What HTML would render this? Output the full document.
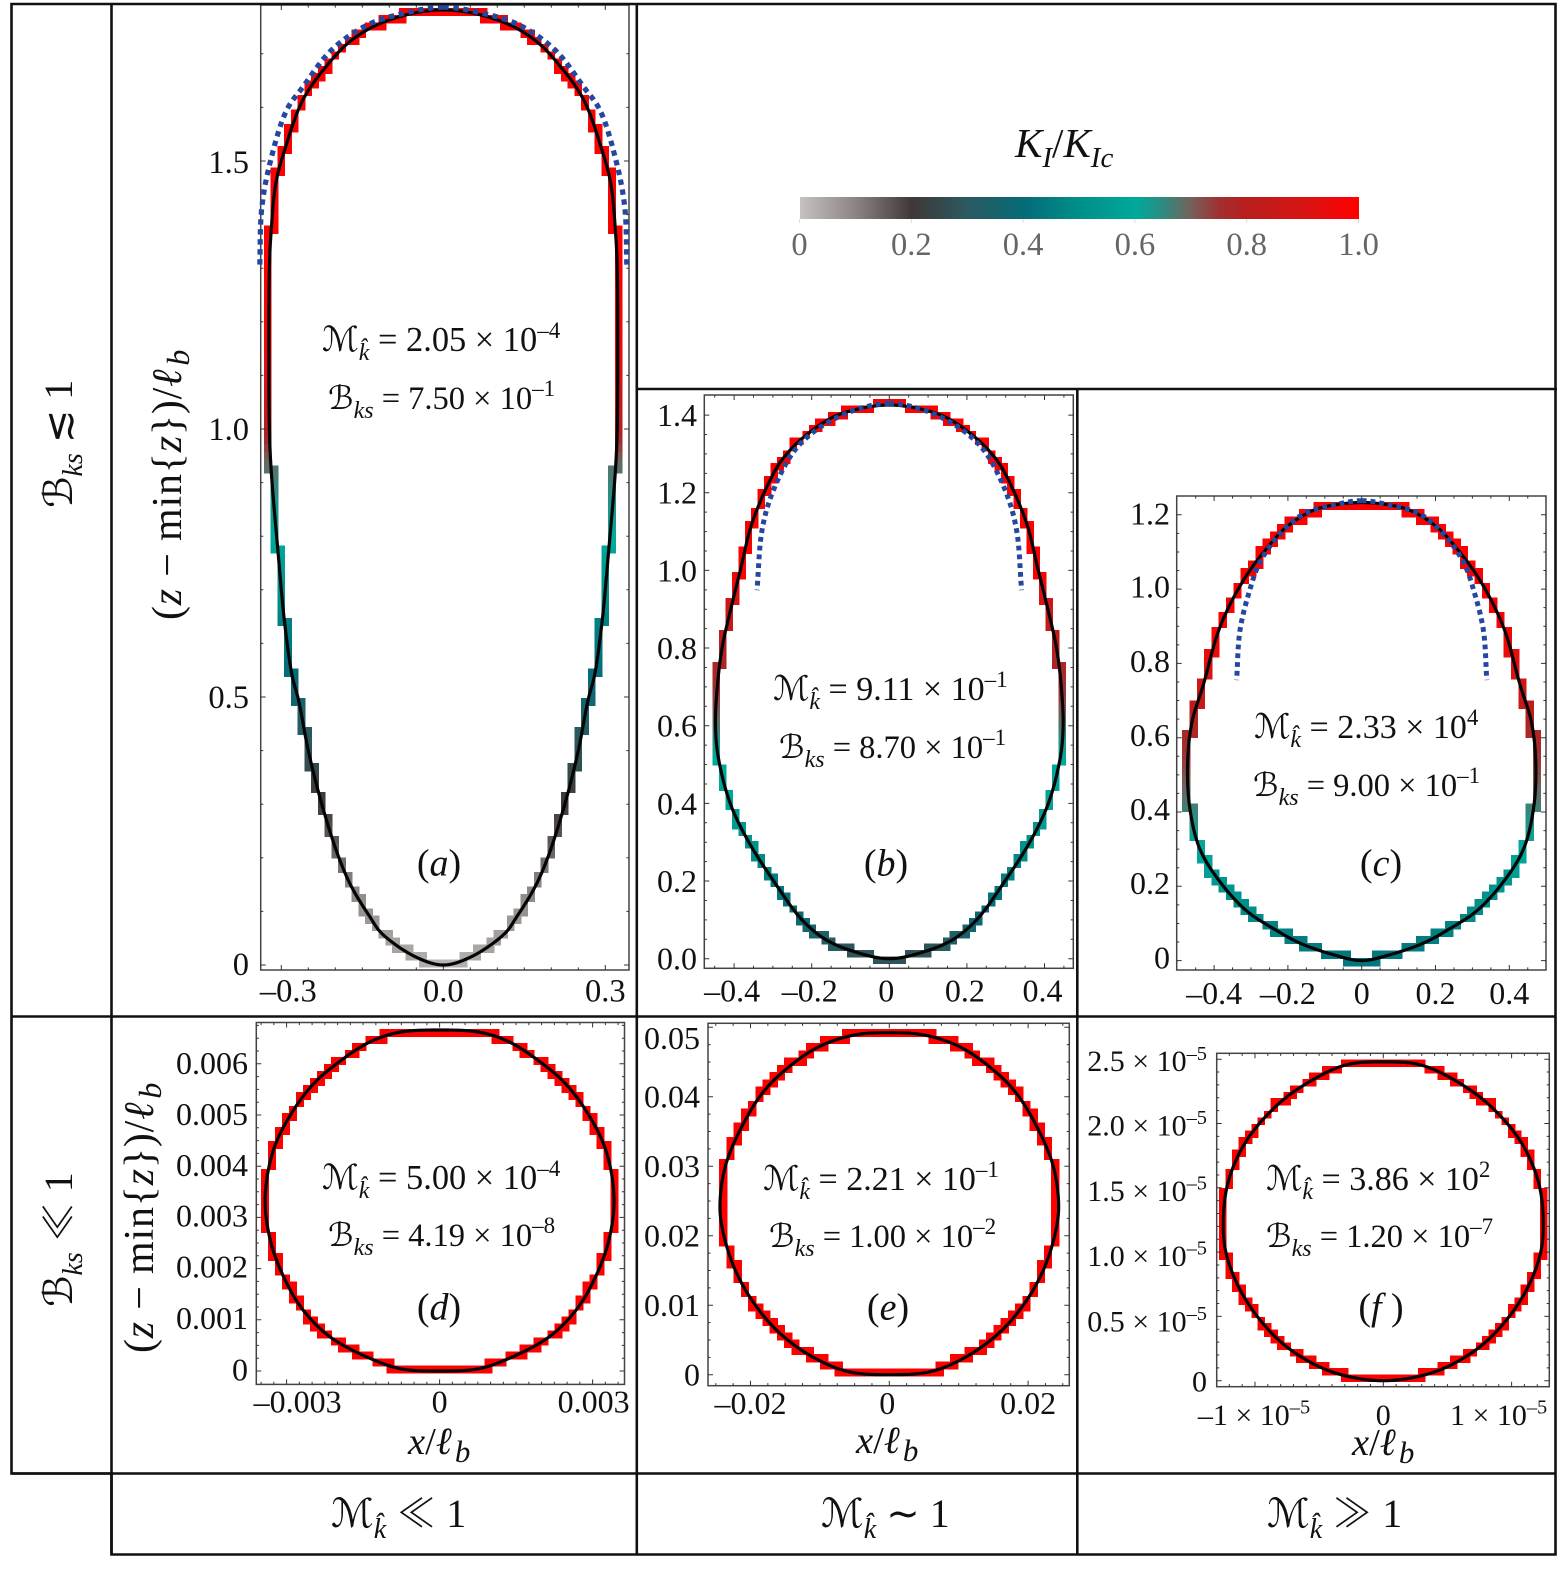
<!DOCTYPE html>
<html lang="en">
<head>
<meta charset="utf-8">
<title>Fracture contours by K_I/K_Ic</title>
<style>
html,body{margin:0;padding:0;background:#fff}
svg{display:block}
text{font-family:"Liberation Serif","DejaVu Serif","DejaVu Sans",serif;fill:#111}
.it{font-style:italic}
.rel{font-family:"Noto Serif CJK SC","Liberation Serif","DejaVu Sans",serif}
.yt{letter-spacing:0.8px}
</style>
</head>
<body>
<svg id="figure" xmlns="http://www.w3.org/2000/svg" width="1564" height="1585" viewBox="0 0 1564 1585">
<defs><linearGradient id="cbGrad" x1="0" x2="1" y1="0" y2="0"></linearGradient></defs>
<rect x="0" y="0" width="1564" height="1585" fill="#fff"/>
<g id="marks"></g>

<g stroke="#111" stroke-width="2.6" fill="none">
<path d="M11.5 4H1555.5V1554.5H111.5V1473.5H11.5Z"/>
<path d="M111.5 4V1554.5"/>
<path d="M636.8 4V1554.5"/>
<path d="M1077.3 389V1554.5"/>
<path d="M636.8 389H1557"/>
<path d="M11.5 1016.5H1555.5"/>
<path d="M11.5 1473.5H1555.5"/>
</g>

<g>
<text transform="translate(72 508) rotate(-90)" font-size="40"><tspan class="it">ℬ</tspan><tspan class="it" dy="10" font-size="28">ks</tspan><tspan dy="-10"> ≲ 1</tspan></text>
<text transform="translate(72 1307) rotate(-90)" font-size="40"><tspan class="it">ℬ</tspan><tspan class="it" dy="10" font-size="28">ks</tspan><tspan dy="-10"> </tspan><tspan class="rel">≪</tspan><tspan> 1</tspan></text>
</g>
<g>
<text x="331" y="1527" font-size="40"><tspan class="it">ℳ</tspan><tspan class="it" dy="11" font-size="28">k̂</tspan><tspan dy="-11"> </tspan><tspan class="rel">≪</tspan><tspan> 1</tspan></text>
<text x="821" y="1527" font-size="40"><tspan class="it">ℳ</tspan><tspan class="it" dy="11" font-size="28">k̂</tspan><tspan dy="-11"> </tspan><tspan class="rel">∼</tspan><tspan> 1</tspan></text>
<text x="1267" y="1527" font-size="40"><tspan class="it">ℳ</tspan><tspan class="it" dy="11" font-size="28">k̂</tspan><tspan dy="-11"> </tspan><tspan class="rel">≫</tspan><tspan> 1</tspan></text>
</g>

<g>
<text class="yt" transform="translate(181 620) rotate(-90)" font-size="42">(<tspan class="it">z</tspan> − min{<tspan class="it">z</tspan>})/<tspan class="it">ℓ</tspan><tspan class="it" dy="8" dx="3" font-size="32">b</tspan></text>
<text class="yt" transform="translate(153 1353) rotate(-90)" font-size="42">(<tspan class="it">z</tspan> − min{<tspan class="it">z</tspan>})/<tspan class="it">ℓ</tspan><tspan class="it" dy="8" dx="3" font-size="32">b</tspan></text>
<text x="408" y="1454" font-size="38.5"><tspan class="it">x</tspan>/<tspan class="it">ℓ</tspan><tspan class="it" dy="8" dx="3" font-size="31">b</tspan></text>
<text x="856" y="1453" font-size="38.5"><tspan class="it">x</tspan>/<tspan class="it">ℓ</tspan><tspan class="it" dy="8" dx="3" font-size="31">b</tspan></text>
<text x="1352" y="1455" font-size="38.5"><tspan class="it">x</tspan>/<tspan class="it">ℓ</tspan><tspan class="it" dy="8" dx="3" font-size="31">b</tspan></text>
</g>

<g>
<text x="322" y="351" font-size="34.4"><tspan class="it">ℳ</tspan><tspan class="it" dy="9" font-size="24">k̂</tspan><tspan dy="-9"> = 2.05 × 10</tspan><tspan dy="-13" font-size="23">–4</tspan></text>
<text x="328" y="409" font-size="32.5"><tspan class="it">ℬ</tspan><tspan class="it" dy="9" font-size="24">ks</tspan><tspan dy="-9"> = 7.50 × 10</tspan><tspan dy="-13" font-size="23">–1</tspan></text>
<text x="439" y="875.5" font-size="38" text-anchor="middle">(<tspan class="it">a</tspan>)</text>
<text x="773" y="700" font-size="34"><tspan class="it">ℳ</tspan><tspan class="it" dy="9" font-size="24">k̂</tspan><tspan dy="-9"> = 9.11 × 10</tspan><tspan dy="-13" font-size="23">–1</tspan></text>
<text x="779" y="758" font-size="32.5"><tspan class="it">ℬ</tspan><tspan class="it" dy="9" font-size="24">ks</tspan><tspan dy="-9"> = 8.70 × 10</tspan><tspan dy="-13" font-size="23">–1</tspan></text>
<text x="886" y="875.5" font-size="38" text-anchor="middle">(<tspan class="it">b</tspan>)</text>
<text x="1254" y="738" font-size="34"><tspan class="it">ℳ</tspan><tspan class="it" dy="9" font-size="24">k̂</tspan><tspan dy="-9"> = 2.33 × 10</tspan><tspan dy="-13" font-size="23">4</tspan></text>
<text x="1253" y="796" font-size="32.5"><tspan class="it">ℬ</tspan><tspan class="it" dy="9" font-size="24">ks</tspan><tspan dy="-9"> = 9.00 × 10</tspan><tspan dy="-13" font-size="23">–1</tspan></text>
<text x="1381" y="875.5" font-size="38" text-anchor="middle">(<tspan class="it">c</tspan>)</text>
<text x="322" y="1189" font-size="34.4"><tspan class="it">ℳ</tspan><tspan class="it" dy="9" font-size="24">k̂</tspan><tspan dy="-9"> = 5.00 × 10</tspan><tspan dy="-13" font-size="23">–4</tspan></text>
<text x="328" y="1246" font-size="32.5"><tspan class="it">ℬ</tspan><tspan class="it" dy="9" font-size="24">ks</tspan><tspan dy="-9"> = 4.19 × 10</tspan><tspan dy="-13" font-size="23">–8</tspan></text>
<text x="439" y="1319.5" font-size="38" text-anchor="middle">(<tspan class="it">d</tspan>)</text>
<text x="763" y="1190" font-size="34"><tspan class="it">ℳ</tspan><tspan class="it" dy="9" font-size="24">k̂</tspan><tspan dy="-9"> = 2.21 × 10</tspan><tspan dy="-13" font-size="23">–1</tspan></text>
<text x="769" y="1247" font-size="32.5"><tspan class="it">ℬ</tspan><tspan class="it" dy="9" font-size="24">ks</tspan><tspan dy="-9"> = 1.00 × 10</tspan><tspan dy="-13" font-size="23">–2</tspan></text>
<text x="888" y="1319.5" font-size="38" text-anchor="middle">(<tspan class="it">e</tspan>)</text>
<text x="1266" y="1190" font-size="34"><tspan class="it">ℳ</tspan><tspan class="it" dy="9" font-size="24">k̂</tspan><tspan dy="-9"> = 3.86 × 10</tspan><tspan dy="-13" font-size="23">2</tspan></text>
<text x="1266" y="1247" font-size="32.5"><tspan class="it">ℬ</tspan><tspan class="it" dy="9" font-size="24">ks</tspan><tspan dy="-9"> = 1.20 × 10</tspan><tspan dy="-13" font-size="23">–7</tspan></text>
<text x="1381" y="1319.5" font-size="38" text-anchor="middle">(<tspan class="it">f</tspan> )</text>
</g>

<g id="colorbar">
<text x="1015" y="157" font-size="41"><tspan class="it">K</tspan><tspan class="it" dy="10" font-size="29">I</tspan><tspan dy="-10">/</tspan><tspan class="it">K</tspan><tspan class="it" dy="10" font-size="29">Ic</tspan></text>
<rect x="800" y="197" width="559" height="22" fill="url(#cbGrad)"/>
</g>

<script>
// ---- colour scale ----
const colorKeys   = [0, 0.1, 0.2, 0.3, 0.4, 0.5, 0.6, 0.65, 0.7, 0.75, 0.8, 0.9, 1.0];
const colorValues = ['#c6c2c0','#8a8482','#403836','#2a5a60','#056b78','#008f8a','#00a99c','#2f8a80','#75605a','#a03030','#b81e1e','#d81414','#ff0000'];
const colorbarTicks  = [0, 0.2, 0.4, 0.6, 0.8, 1.0];
const colorbarLabels = ['0','0.2','0.4','0.6','0.8','1.0'];

// ---- panel (a) ----
const xTicksA = [-0.3, 0, 0.3];
const xLabelsA = ['–0.3','0.0','0.3'];
const zTicksA = [0, 0.5, 1.0, 1.5];
const zLabelsA = ['0','0.5','1.0','1.5'];
const halfXA = [0,0.052,0.114,0.136,0.17,0.194,0.225,0.25,0.268,0.28,0.294,0.306,0.319,0.322,0.323,0.322,0.319,0.31,0.294,0.26,0.218,0.169,0.101,0];
const heightA = [0,0.0155,0.059,0.09,0.146,0.202,0.30,0.40,0.494,0.54,0.64,0.77,0.927,1.0,1.15,1.302,1.366,1.459,1.52,1.614,1.675,1.726,1.763,1.782];
const ratioA = [0.02,0.04,0.06,0.07,0.1,0.14,0.2,0.28,0.36,0.4,0.46,0.58,0.68,0.8,0.95,1,1,1,1,1,1,1,1,1];
const dotXA = [0,0.071,0.14,0.207,0.26,0.29,0.32,0.336,0.34];
const dotZA = [1.787,1.776,1.754,1.707,1.638,1.595,1.50,1.414,1.30];

// ---- panel (b) ----
const xTicksB = [-0.4,-0.2,0,0.2,0.4];
const xLabelsB = ['–0.4','–0.2','0','0.2','0.4'];
const zTicksB = [0,0.2,0.4,0.6,0.8,1.0,1.2,1.4];
const zLabelsB = ['0.0','0.2','0.4','0.6','0.8','1.0','1.2','1.4'];
const halfXB = [0,0.096,0.165,0.225,0.298,0.362,0.41,0.441,0.448,0.444,0.431,0.405,0.384,0.354,0.307,0.277,0.229,0.152,0.096,0];
const heightB = [0,0.02,0.05,0.1,0.2,0.3,0.4,0.52,0.6,0.692,0.8,0.915,1.0,1.121,1.233,1.284,1.336,1.391,1.412,1.426];
const ratioB = [0.28,0.28,0.33,0.38,0.45,0.52,0.58,0.6,0.68,0.75,0.8,0.88,1,1,1,1,1,1,1,1];
const dotXB = [0,0.062,0.13,0.2,0.25,0.302,0.328,0.341];
const dotZB = [1.43,1.421,1.396,1.353,1.301,1.198,1.104,0.949];

// ---- panel (c) ----
const xTicksC = [-0.4,-0.2,0,0.2,0.4];
const xLabelsC = ['–0.4','–0.2','0','0.2','0.4'];
const zTicksC = [0,0.2,0.4,0.6,0.8,1.0,1.2];
const zLabelsC = ['0','0.2','0.4','0.6','0.8','1.0','1.2'];
const halfXC = [0,0.077,0.167,0.239,0.312,0.384,0.438,0.465,0.472,0.461,0.429,0.384,0.321,0.257,0.203,0.131,0.077,0];
const heightC = [0,0.016,0.047,0.086,0.134,0.212,0.299,0.405,0.521,0.637,0.743,0.898,1.023,1.11,1.168,1.212,1.226,1.233];
const ratioC = [0.43,0.43,0.45,0.47,0.5,0.53,0.6,0.66,0.73,0.79,0.88,1,1,1,1,1,1,1];
const dotXC = [0,0.077,0.158,0.221,0.276,0.307,0.33,0.339];
const dotZC = [1.238,1.226,1.202,1.149,1.072,0.985,0.888,0.755];

// ---- panel (d) ----
const xTicksD = [-0.003,0,0.003];
const xLabelsD = ['–0.003','0','0.003'];
const zTicksD = [0,0.001,0.002,0.003,0.004,0.005,0.006];
const zLabelsD = ['0','0.001','0.002','0.003','0.004','0.005','0.006'];
const halfXD = [0,0.00074,0.0013,0.00214,0.00266,0.00298,0.0033,0.00342,0.00326,0.0029,0.00246,0.00194,0.00138,0.00082,0];
const heightD = [0,0.00004,0.00022,0.00066,0.00117,0.00168,0.00248,0.00336,0.00431,0.00504,0.00562,0.00606,0.00642,0.00661,0.00666];
const ratioD = [1,1,1,1,1,1,1,1,1,1,1,1,1,1,1];

// ---- panel (e) ----
const xTicksE = [-0.02,0,0.02];
const xLabelsE = ['–0.02','0','0.02'];
const zTicksE = [0,0.01,0.02,0.03,0.04,0.05];
const zLabelsE = ['0','0.01','0.02','0.03','0.04','0.05'];
const halfXE = [0,0.00587,0.01067,0.01548,0.0193,0.0222,0.0239,0.0244,0.02365,0.02125,0.0179,0.01356,0.0097,0.0049,0];
const heightE = [0,0.00043,0.00235,0.0057,0.01,0.01506,0.0203,0.0242,0.0299,0.0357,0.041,0.045,0.0474,0.0489,0.0492];
const ratioE = [1,1,1,1,1,1,1,1,1,1,1,1,1,1,1];

// ---- panel (f), values in units of 1e-5 ----
const xTicksF = [-1,0,1];
const xLabelsF = ['–1 × 10^–5','0','1 × 10^–5'];
const zTicksF = [0,0.5,1.0,1.5,2.0,2.5];
const zLabelsF = ['0','0.5 × 10^–5','1.0 × 10^–5','1.5 × 10^–5','2.0 × 10^–5','2.5 × 10^–5'];
const halfXF = [0,0.26,0.50,0.77,0.98,1.128,1.225,1.247,1.212,1.08,0.855,0.62,0.30,0];
const heightF = [0,0.03,0.109,0.277,0.497,0.73,0.99,1.223,1.534,1.845,2.117,2.298,2.453,2.479];
const ratioF = [1,1,1,1,1,1,1,1,1,1,1,1,1,1];

const NS = 'http://www.w3.org/2000/svg';
const root = document.getElementById('marks');

function mk(tag, attrs, parent) {
  const el = document.createElementNS(NS, tag);
  for (const k in attrs) el.setAttribute(k, attrs[k]);
  parent.appendChild(el);
  return el;
}
function hexToRgb(h) {
  return [parseInt(h.slice(1,3),16), parseInt(h.slice(3,5),16), parseInt(h.slice(5,7),16)];
}
function colorFor(k) {
  if (k <= colorKeys[0]) return colorValues[0];
  for (let i = 1; i < colorKeys.length; i++) {
    if (k <= colorKeys[i]) {
      const t = (k - colorKeys[i-1]) / (colorKeys[i] - colorKeys[i-1]);
      const a = hexToRgb(colorValues[i-1]), b = hexToRgb(colorValues[i]);
      return 'rgb(' + a.map((v, n) => Math.round(v + (b[n] - v) * t)).join(',') + ')';
    }
  }
  return colorValues[colorValues.length - 1];
}
// Centripetal spline through the read values, for drawing only.
// The apex points on the axis of symmetry get a horizontal tangent via mirrored ghost points.
function smooth(xs, zs, ks, openEnd) {
  const out = [];
  const n = xs.length;
  const P = function (i) {
    if (i < 0) return [-xs[1], zs[1]];
    if (i >= n) {
      if (openEnd) return [2 * xs[n - 1] - xs[n - 2], 2 * zs[n - 1] - zs[n - 2]];
      return [-xs[n - 2], zs[n - 2]];
    }
    return [xs[i], zs[i]];
  };
  const dist = (a, b) => Math.max(1e-12, Math.pow(Math.hypot(a[0] - b[0], a[1] - b[1]), 0.5));
  const lerp = (a, b, ta, tb, t) => [
    ((tb - t) * a[0] + (t - ta) * b[0]) / (tb - ta),
    ((tb - t) * a[1] + (t - ta) * b[1]) / (tb - ta)
  ];
  for (let i = 0; i < n - 1; i++) {
    const p0 = P(i - 1), p1 = P(i), p2 = P(i + 1), p3 = P(i + 2);
    const t0 = 0, t1 = t0 + dist(p0, p1), t2 = t1 + dist(p1, p2), t3 = t2 + dist(p2, p3);
    for (let s = 0; s < 16; s++) {
      const t = t1 + (t2 - t1) * s / 16;
      const a1 = lerp(p0, p1, t0, t1, t), a2 = lerp(p1, p2, t1, t2, t), a3 = lerp(p2, p3, t2, t3, t);
      const b1 = lerp(a1, a2, t0, t2, t), b2 = lerp(a2, a3, t1, t3, t);
      const c = lerp(b1, b2, t1, t2, t);
      out.push({ x: Math.max(0, c[0]), z: c[1], k: ks ? ks[i] + (ks[i + 1] - ks[i]) * s / 16 : 1 });
    }
  }
  out.push({ x: xs[n - 1], z: zs[n - 1], k: ks ? ks[n - 1] : 1 });
  return out;
}
function addLabel(parent, x, y, anchor, size, str, fill) {
  const el = mk('text', { x: x, y: y, 'text-anchor': anchor, 'font-size': size }, parent);
  if (fill) el.style.fill = fill;
  const parts = str.split('^');
  el.textContent = '';
  const a = mk('tspan', {}, el);
  a.textContent = parts[0];
  if (parts[1]) {
    const b = mk('tspan', { dy: -size * 0.38, 'font-size': size * 0.68 }, el);
    b.textContent = parts[1];
  }
  return el;
}

const panels = [
  { id:'a', l:260.7, r:629, t:5, b:970, x0:443.3, sx:540, z0:965, sz:536, cx:0.0125, cz:0.01355, ph:0.003,
    xT:xTicksA, xL:xLabelsA, zT:zTicksA, zL:zLabelsA, hx:halfXA, hz:heightA, hk:ratioA, dx:dotXA, dz:dotZA,
    minX:0.05, minZ:0.1, xBase:1001.7, zRight:249, fs:32.5, shift:[7,0,0], zOff:[10,11,11,12], dash:'5.4 4.6', dw:5.2 },
  { id:'b', l:704.3, r:1073.3, t:395, b:968.3, x0:889.3, sx:388, z0:958.7, sz:388.3, cx:0.0165, cz:0.0165, ph:-0.004,
    xT:xTicksB, xL:xLabelsB, zT:zTicksB, zL:zLabelsB, hx:halfXB, hz:heightB, hk:ratioB, dx:dotXB, dz:dotZB,
    minX:0.05, minZ:0.05, xBase:1001.7, zRight:697, fs:32, shift:[-2,-2,-3,-2,-2], zOff:[11,11,11,11,11,11,11,11], dash:'4.8 4', dw:5 },
  { id:'c', l:1176.7, r:1546, t:496, b:970, x0:1361.7, sx:369, z0:960.6, sz:371.5, cx:0.0198, cz:0.0198, ph:-0.004,
    xT:xTicksC, xL:xLabelsC, zT:zTicksC, zL:zLabelsC, hx:halfXC, hz:heightC, hk:ratioC, dx:dotXC, dz:dotZC,
    minX:0.05, minZ:0.05, xBase:1004, zRight:1170, fs:32, shift:[0,0,0,0,0], zOff:[8,7.5,8,8.5,8.5,8.5,9.5], dash:'4.8 4', dw:5 },
  { id:'d', l:256.3, r:624.5, t:1022.5, b:1384.4, x0:439.6, sx:51000, z0:1371, sz:51200, cx:0.000137, cz:0.000137, ph:0.00003,
    xT:xTicksD, xL:xLabelsD, zT:zTicksD, zL:zLabelsD, hx:halfXD, hz:heightD, hk:ratioD,
    minX:0.00025, minZ:0.00025, xBase:1412.5, zRight:248, fs:32, shift:[11,0,1], zOff:[9.5,9,9,9,10,10,10] },
  { id:'e', l:708, r:1069.3, t:1023.3, b:1385.7, x0:889.3, sx:6940, z0:1374.7, sz:6950, cx:0.00104, cz:0.00104, ph:0.0003,
    xT:xTicksE, xL:xLabelsE, zT:zTicksE, zL:zLabelsE, hx:halfXE, hz:heightE, hk:ratioE,
    minX:0.0025, minZ:0.0025, xBase:1414, zRight:700, fs:32, shift:[0,-2,0], zOff:[11,11,11,11,11,22] },
  { id:'f', l:1216.7, r:1549.3, t:1053.3, b:1386.7, x0:1383.3, sx:128.3, z0:1380.7, sz:128.6, cx:0.05, cz:0.05, ph:0.018,
    xT:xTicksF, xL:xLabelsF, zT:zTicksF, zL:zLabelsF, hx:halfXF, hz:heightF, hk:ratioF,
    minX:0.1, minZ:0.1, xBase:1425, zRight:1207, fs:30, shift:[-1,0,-13], zOff:[11,15,14,13,12,12] }
];

panels.forEach(function (p) {
  const sxF = v => p.x0 + v * p.sx;
  const szF = v => p.z0 - v * p.sz;

  const g = mk('g', {}, root);
  
  

  // staircase mesh cells crossed by the contour
  const samples = smooth(p.hx, p.hz, p.hk, false);
  const cells = new Map();
  samples.forEach(function (s) {
    const i = Math.round(s.x / p.cx), j = Math.round((s.z - p.ph) / p.cz);
    const key = i + ',' + j;
    if (!cells.has(key)) cells.set(key, { i: i, j: j, k: s.k });
  });
  const cellW = p.cx * p.sx, cellH = p.cz * p.sz;
  const cellGroup = mk('g', { 'shape-rendering': 'crispEdges' }, g);
  
  
  cells.forEach(function (c) {
    [c.i, -c.i].forEach(function (ii, idx) {
      if (idx === 1 && c.i === 0) return;
      const rect = mk('rect', {
        x: sxF(ii * p.cx) - cellW / 2 - 0.5,
        y: szF(p.ph + c.j * p.cz) - cellH / 2 - 0.5,
        width: cellW + 1,
        height: cellH + 1,
        fill: colorFor(c.k)
      }, cellGroup);
      
      
    });
  });

  // frame
  const frame = mk('rect', { x: p.l, y: p.t, width: p.r - p.l, height: p.b - p.t, fill: 'none', stroke: '#444', 'stroke-width': 1.5 }, g);
  
  

  // ticks on all four sides
  let d = '';
  const isMajor = (v, arr, step) => arr.some(t => Math.abs(t - v) < step * 0.2);
  const nx = Math.ceil((p.r - p.l) / (p.minX * p.sx));
  for (let n = -nx; n <= nx; n++) {
    const v = n * p.minX, px = sxF(v);
    if (px <= p.l + 1 || px >= p.r - 1) continue;
    const len = isMajor(v, p.xT, p.minX) ? 5 : 2.6;
    d += 'M' + px + ' ' + p.b + 'v' + (-len) + 'M' + px + ' ' + p.t + 'v' + len;
  }
  const nz = Math.ceil((p.b - p.t) / (p.minZ * p.sz));
  for (let n = -2; n <= nz; n++) {
    const v = n * p.minZ, py = szF(v);
    if (py <= p.t + 1 || py >= p.b - 1) continue;
    const len = isMajor(v, p.zT, p.minZ) ? 5 : 2.6;
    d += 'M' + p.l + ' ' + py + 'h' + len + 'M' + p.r + ' ' + py + 'h' + (-len);
  }
  const ticks = mk('path', { d: d, stroke: '#333', 'stroke-width': 1, fill: 'none' }, g);
  
  

  // tick labels
  p.xT.forEach(function (v, i) {
    const t = addLabel(g, sxF(v) + p.shift[i], p.xBase, 'middle', p.fs, p.xL[i]);
    
    
  });
  p.zT.forEach(function (v, i) {
    const t = addLabel(g, p.zRight, szF(v) + p.zOff[i], 'end', p.fs, p.zL[i]);
    
    
  });

  // black contour (mirrored half contour)
  const right = samples.map(s => sxF(s.x).toFixed(2) + ' ' + szF(s.z).toFixed(2));
  const left = samples.slice().reverse().map(s => sxF(-s.x).toFixed(2) + ' ' + szF(s.z).toFixed(2));
  const contour = mk('path', { d: 'M' + right.concat(left).join('L') + 'Z', fill: 'none', stroke: '#050505', 'stroke-width': 3.2, 'stroke-linejoin': 'round' }, g);
  
  

  // blue dotted asymptote
  if (p.dx) {
    const dots = smooth(p.dx, p.dz, null, true);
    [1, -1].forEach(function (sign) {
      const pathD = 'M' + dots.map(s => sxF(sign * s.x).toFixed(2) + ' ' + szF(s.z).toFixed(2)).join('L');
      const dotted = mk('path', { d: pathD, fill: 'none', stroke: '#24479f', 'stroke-width': p.dw, 'stroke-dasharray': p.dash }, g);
      
      
    });
  }
});

// colour bar
const grad = document.getElementById('cbGrad');
colorKeys.forEach(function (k, i) {
  mk('stop', { offset: k, 'stop-color': colorValues[i] }, grad);
});
const cb = document.getElementById('colorbar');
const cbX = v => 799.5 + v * 559;
colorbarTicks.forEach(function (v, i) {
  const t = addLabel(cb, cbX(v), 255, 'middle', 32.5, colorbarLabels[i], '#666');
  
  
  const m = mk('line', { x1: cbX(v), x2: cbX(v), y1: 219, y2: 223, stroke: '#ddd', 'stroke-width': 1 }, cb);
  
  
});
</script>
</svg>
</body>
</html>
